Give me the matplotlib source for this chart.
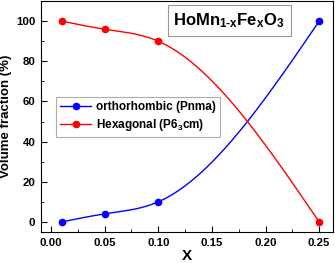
import numpy as np
import matplotlib.pyplot as plt
from matplotlib.ticker import MultipleLocator

plt.rcParams['font.family'] = ['Liberation Sans', 'DejaVu Sans']
plt.rcParams['font.weight'] = 'bold'
plt.rcParams['mathtext.fontset'] = 'custom'
plt.rcParams['mathtext.rm'] = 'Liberation Sans:bold'
plt.rcParams['mathtext.bf'] = 'Liberation Sans:bold'
plt.rcParams['mathtext.it'] = 'Liberation Sans:bold'

# data
x = [0.01, 0.05, 0.10, 0.25]
ortho = [0, 4, 10, 100]
hexa = [100, 96, 90, 0]


def natural_spline(xs, ys, n=200):
    # natural cubic spline through the points, for the smooth connecting line
    xs = np.asarray(xs, float)
    ys = np.asarray(ys, float)
    k = len(xs)
    h = np.diff(xs)
    A = np.zeros((k, k))
    b = np.zeros(k)
    A[0, 0] = A[-1, -1] = 1
    for i in range(1, k - 1):
        A[i, i - 1] = h[i - 1]
        A[i, i] = 2 * (h[i - 1] + h[i])
        A[i, i + 1] = h[i]
        b[i] = 6 * ((ys[i + 1] - ys[i]) / h[i] - (ys[i] - ys[i - 1]) / h[i - 1])
    M = np.linalg.solve(A, b)
    xx = np.linspace(xs[0], xs[-1], n)
    idx = np.clip(np.searchsorted(xs, xx) - 1, 0, k - 2)
    x0, x1 = xs[idx], xs[idx + 1]
    hh = x1 - x0
    yy = (M[idx] * (x1 - xx) ** 3 / (6 * hh) + M[idx + 1] * (xx - x0) ** 3 / (6 * hh)
          + (ys[idx] / hh - M[idx] * hh / 6) * (x1 - xx)
          + (ys[idx + 1] / hh - M[idx + 1] * hh / 6) * (xx - x0))
    return xx, yy


fig = plt.figure(figsize=(3.35, 2.63), dpi=100)
ax = fig.add_axes([0.1224, 0.118, 0.872, 0.878])

for ys, c, lab in [(ortho, 'blue', 'orthorhombic (Pnma)'),
                   (hexa, 'red', 'Hexagonal (P6$_{3}$cm)')]:
    xx, yy = natural_spline(x, ys)
    ax.plot(xx, yy, color=c, lw=1)
    ax.plot(x, ys, 'o', color=c, ms=4.5)
    ax.plot([], [], '-o', color=c, ms=4.5, lw=1, label=lab)

ax.set_xlim(-0.0093, 0.263)
ax.set_ylim(-5, 110)
ax.xaxis.set_major_locator(MultipleLocator(0.05))
ax.xaxis.set_minor_locator(MultipleLocator(0.025))
ax.yaxis.set_major_locator(MultipleLocator(20))
ax.yaxis.set_minor_locator(MultipleLocator(10))
ax.tick_params(which='both', direction='in', labelsize=8.2)
ax.tick_params(which='major', length=4, pad=4)
ax.tick_params(which='minor', length=2.5)
ax.set_xticks(np.arange(0, 0.26, 0.05))
ax.set_xticklabels(['0.00', '0.05', '0.10', '0.15', '0.20', '0.25'])

ax.set_xlabel('X', fontsize=11, fontweight='bold', labelpad=1)
ax.set_ylabel('Volume fraction (%)', fontsize=9.5, fontweight='bold', labelpad=3)

leg = ax.legend(loc='upper left', bbox_to_anchor=(0.052, 0.583), fontsize=8.5,
                fancybox=False, edgecolor='#999999', handlelength=2.6,
                borderpad=0.35, labelspacing=0.3, handletextpad=0.4, borderaxespad=0)
leg.get_frame().set_linewidth(0.8)

ax.text(0.644, 0.916, 'HoMn$_{1\\text{-}x}$Fe$_{x}$O$_{3}$',
        transform=ax.transAxes, fontsize=12, fontweight='bold', ha='center', va='center',
        bbox=dict(boxstyle='square,pad=0.35', fc='white', ec='#999999', lw=0.8))

fig.savefig('out.png', dpi=100)
